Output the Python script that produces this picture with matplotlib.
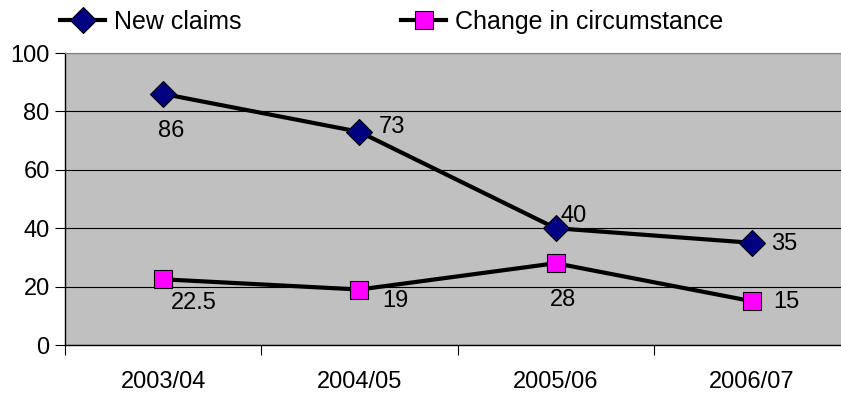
import matplotlib
matplotlib.use("Agg")
import matplotlib.pyplot as plt
from matplotlib.lines import Line2D

plt.rcParams["font.family"] = ["Liberation Sans", "DejaVu Sans"]

years = ["2003/04", "2004/05", "2005/06", "2006/07"]
new_claims = [86, 73, 40, 35]
change_circ = [22.5, 19, 28, 15]
new_labels = ["86", "73", "40", "35"]
change_labels = ["22.5", "19", "28", "15"]

FS = 17

fig = plt.figure(figsize=(8.41, 3.94), dpi=100)
ax = fig.add_axes([65 / 841, 1 - 345 / 394, 785 / 841, 292 / 394])
ax.set_facecolor("#c0c0c0")

x = list(range(len(years)))
ax.plot(x, new_claims, color="black", lw=3, marker="D", ms=13,
        mfc="#000080", mec="black", mew=0.8, zorder=3)
ax.plot(x, change_circ, color="black", lw=3, marker="s", ms=13,
        mfc="#ff00ff", mec="black", mew=0.8, zorder=3)

# label offsets in pixels, per point
new_off = [(8, -37), (19, 5), (5, 12), (19, -1)]
new_ha = ["center", "left", "left", "left"]
for i, (v, t) in enumerate(zip(new_claims, new_labels)):
    ax.annotate(t, (i, v), xytext=new_off[i], textcoords="offset pixels",
                ha=new_ha[i], va="center", fontsize=FS)

ch_off = [(8, -24), (23, -11), (7, -37), (21, -1)]
ch_ha = ["left", "left", "center", "left"]
for i, (v, t) in enumerate(zip(change_circ, change_labels)):
    ax.annotate(t, (i, v), xytext=ch_off[i], textcoords="offset pixels",
                ha=ch_ha[i], va="center", fontsize=FS)

ax.set_xlim(-0.5, 3.5)
ax.set_ylim(0, 100)
ax.set_yticks([0, 20, 40, 60, 80, 100])
ax.yaxis.grid(True, color="black", lw=0.8)
ax.set_axisbelow(True)

ax.set_xticks([-0.5, 0.5, 1.5, 2.5])
ax.set_xticklabels([])
ax.set_xticks(x, minor=True)
ax.set_xticklabels(years, minor=True)
ax.tick_params(axis="x", which="minor", length=0, pad=19, labelsize=FS)
ax.tick_params(axis="x", which="major", length=7, direction="out", color="black")
ax.tick_params(axis="y", length=7, direction="out", labelsize=FS, pad=4)

for s in ["left", "bottom"]:
    ax.spines[s].set_color("black")
    ax.spines[s].set_linewidth(1)
ax.spines["top"].set_color("#808080")
ax.spines["right"].set_visible(False)

handles = [
    Line2D([], [], color="black", lw=3, marker="D", ms=13,
           mfc="#000080", mec="black", mew=0.8),
    Line2D([], [], color="black", lw=3, marker="s", ms=13,
           mfc="#ff00ff", mec="black", mew=0.8),
]
fig.legend(handles, ["New claims", "Change in circumstance"], ncol=2,
           loc="center left", bbox_to_anchor=(60 / 841, 1 - 22 / 394),
           frameon=False, fontsize=FS + 1, handlelength=1.8,
           handletextpad=0.35, columnspacing=6.4, borderaxespad=0,
           borderpad=0)

fig.savefig("out.png", dpi=100)
